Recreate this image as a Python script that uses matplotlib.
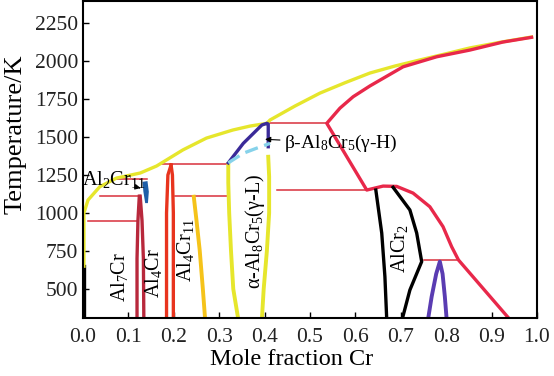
import numpy as np
import matplotlib
matplotlib.use("Agg")
import matplotlib.pyplot as plt

plt.rcParams['font.family'] = ['Liberation Serif', 'DejaVu Serif']
plt.rcParams['mathtext.fontset'] = 'custom'
plt.rcParams['mathtext.rm'] = 'Liberation Serif'
plt.rcParams['mathtext.default'] = 'regular'

# 液相线 (yellow)
liq_x = [0.002, 0.002, 0.011, 0.037, 0.074, 0.126, 0.162, 0.173, 0.220, 0.272,
         0.330, 0.368, 0.405, 0.412, 0.467, 0.522, 0.577, 0.632, 0.687, 0.742,
         0.797, 0.852, 0.918, 0.988]
liq_T = [650, 1000, 1085, 1173, 1230, 1263, 1309, 1329, 1415, 1493,
         1546, 1572, 1590, 1612, 1704, 1789, 1857, 1921, 1967, 2007,
         2046, 2086, 2123, 2158]

# Cr 固相线 + AlCr2 穹顶 (red)
bcc_x = [0.988, 0.925, 0.852, 0.779, 0.705, 0.632, 0.595, 0.566, 0.537, 0.625,
         0.661, 0.691, 0.727, 0.764, 0.793, 0.812, 0.827, 0.940]
bcc_T = [2156, 2125, 2072, 2028, 1962, 1836, 1765, 1690, 1590, 1151,
         1177, 1175, 1131, 1041, 910, 778, 691, 300]

# 三相水平线 (T, x_left, x_right)
iso_T = [947, 1112, 1224, 1320, 1112, 1590, 1151, 691]
iso_x0 = [0.011, 0.037, 0.074, 0.173, 0.203, 0.412, 0.427, 0.750]
iso_x1 = [0.118, 0.126, 0.140, 0.317, 0.317, 0.537, 0.625, 0.827]

# Al7Cr
al7_T = [300, 700, 950, 1110]
al7_xl = [0.119, 0.119, 0.121, 0.124]
al7_xr = [0.134, 0.133, 0.130, 0.126]

# Al4Cr
al4_T = [300, 1000, 1250, 1316]
al4_xl = [0.184, 0.184, 0.187, 0.194]
al4_xr = [0.199, 0.199, 0.197, 0.194]

# Al11Cr2 小区域 (blue)
blue_x = [0.131, 0.142, 0.145, 0.143, 0.137, 0.133]
blue_T = [1205, 1210, 1140, 1065, 1065, 1140]

# 橙线
or_x = [0.244, 0.250, 0.257, 0.264, 0.269]
or_T = [1107, 950, 757, 500, 300]

# alpha-Al8Cr5
a_T = [1320, 1200, 1000, 750, 500, 300]
a_xl = [0.320, 0.320, 0.322, 0.326, 0.331, 0.342]
ar_T = [1370, 1240, 1000, 750, 500, 300]
a_xr = [0.408, 0.410, 0.410, 0.405, 0.398, 0.394]

# beta-Al8Cr5
b_x = [0.320, 0.353, 0.394, 0.405, 0.408, 0.408]
b_T = [1330, 1458, 1579, 1590, 1585, 1436]
cy_x = [0.320, 0.353, 0.382, 0.412]
cy_T = [1330, 1393, 1426, 1458]

# AlCr2 (black)
c2l_x = [0.645, 0.658, 0.665, 0.669]
c2l_T = [1151, 868, 581, 300]
c2r_x = [0.683, 0.720, 0.735, 0.746, 0.720, 0.703]
c2r_T = [1169, 1020, 868, 680, 493, 300]

# 右侧紫色穹顶
pd_x = [0.760, 0.768, 0.778, 0.786, 0.792, 0.797, 0.801]
pd_T = [300, 450, 600, 680, 600, 450, 300]

xticks = np.arange(0, 1.01, 0.1)
yticks = [500, 750, 1000, 1250, 1500, 1750, 2000, 2250]

fig = plt.figure(figsize=(5.54, 3.76), dpi=100)
ax = fig.add_axes([83 / 554, 58 / 376, 454 / 554, 317 / 376])

yel = '#e6e62c'
red = '#e8284a'
lw = 2.4

for T, x0, x1 in zip(iso_T, iso_x0, iso_x1):
    ax.plot([x0, x1], [T, T], color='#d8303c', lw=1.1)

ax.plot([0.002, 0.002], [300, 650], color='black', lw=lw)
ax.plot(liq_x, liq_T, color=yel, lw=lw)
ax.plot(bcc_x, bcc_T, color=red, lw=lw)

ax.plot(al7_xl, al7_T, color='#b8283c', lw=lw)
ax.plot(al7_xr, al7_T, color='#b8283c', lw=lw)
ax.plot(al4_xl, al4_T, color='#e8341e', lw=lw)
ax.plot(al4_xr, al4_T, color='#e8341e', lw=lw)
ax.fill(blue_x, blue_T, color='#1f5fa8', lw=0)
ax.plot(or_x, or_T, color='#f5c31a', lw=lw + 0.4)

ax.plot(a_xl, a_T, color=yel, lw=lw + 0.4)
ax.plot(a_xr, ar_T, color=yel, lw=lw + 0.4)
ax.plot(b_x, b_T, color='#3a2a98', lw=lw)
ax.plot(cy_x, cy_T, color='#86d2ea', lw=lw, ls=(0, (4, 2)))

ax.plot(c2l_x, c2l_T, color='black', lw=lw)
ax.plot(c2r_x, c2r_T, color='black', lw=lw)
ax.plot(pd_x, pd_T, color='#5a3cb2', lw=lw + 0.4)

fs = 14.5
ax.text(0.081, 580, r'Al$_7$Cr', rotation=90, ha='center', va='center', fontsize=fs)
ax.text(0.155, 605, r'Al$_4$Cr', rotation=90, ha='center', va='center', fontsize=fs)
ax.text(0.225, 756, r'Al$_4$Cr$_{11}$', rotation=90, ha='center', va='center', fontsize=fs)
ax.text(0.379, 880, r'α-Al$_8$Cr$_5$(γ-L)', rotation=90, ha='center', va='center', fontsize=fs)
ax.text(0.698, 763, r'AlCr$_2$', rotation=90, ha='center', va='center', fontsize=fs)
ax.text(-0.002, 1222, r'Al$_2$Cr$_{11}$', ha='left', va='center', fontsize=fs)
ax.annotate('', xy=(0.133, 1160), xytext=(0.118, 1170),
            arrowprops=dict(arrowstyle='-|>', color='black', lw=0.8, mutation_scale=8))
ax.annotate(r'β-Al$_8$Cr$_5$(γ-H)', xy=(0.401, 1485), xytext=(0.443, 1460),
            ha='left', va='center', fontsize=14,
            arrowprops=dict(arrowstyle='-|>', color='black', lw=0.8, mutation_scale=8,
                            shrinkA=1, shrinkB=0))

ax.set_xlim(0, 1.0)
ax.set_ylim(309, 2395)
ax.set_xticks(xticks)
ax.set_xticklabels([f'{v:.1f}' for v in xticks])
ax.set_yticks(yticks)
ax.tick_params(direction='in', length=4, width=1, labelsize=15.5, colors='black',
               labelcolor='#222222', top=False, right=False)
ax.tick_params(axis='x', pad=7)
for s in ax.spines.values():
    s.set_linewidth(1.5)
ax.set_xlabel('Mole fraction Cr', fontsize=17.5)
ax.set_ylabel('Temperature/K', fontsize=19)
ax.xaxis.set_label_coords(0.46, -0.097)
ax.yaxis.set_label_coords(-0.125, 0.58)

fig.savefig('out.png', dpi=100)
